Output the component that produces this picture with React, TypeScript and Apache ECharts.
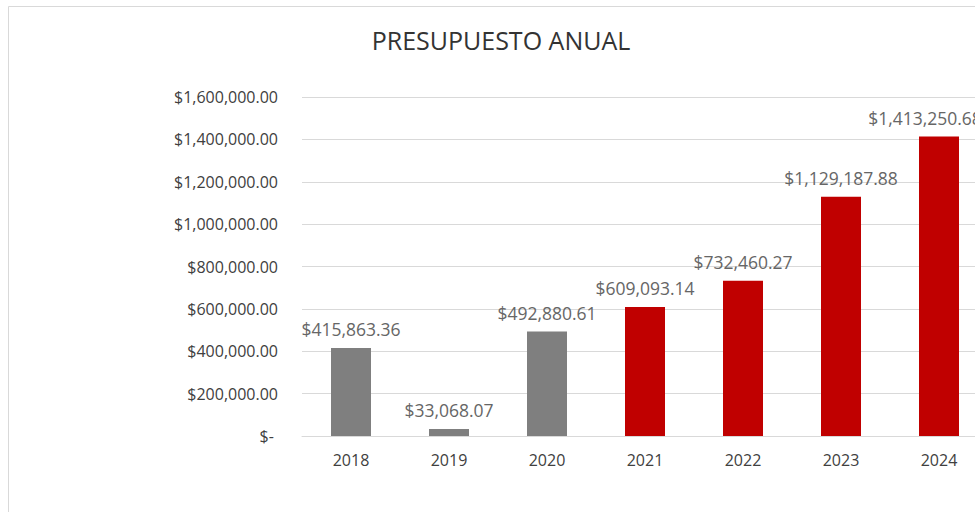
import React, { useEffect, useRef } from "react";
import * as echarts from "echarts";

const years = ["2018", "2019", "2020", "2021", "2022", "2023", "2024"];
const budget = [415863.36, 33068.07, 492880.61, 609093.14, 732460.27, 1129187.88, 1413250.68];
const firstProjectedYear = "2021";
const titleText = "PRESUPUESTO ANUAL";

const money = (v: number) =>
  "$" + v.toLocaleString("en-US", { minimumFractionDigits: 2, maximumFractionDigits: 2 });

export default function App() {
  const ref = useRef<HTMLDivElement>(null);
  useEffect(() => {
    if (!ref.current) return;
    const chart = echarts.init(ref.current, null, { renderer: "svg" });
    const font = "'Open Sans', sans-serif";
    chart.setOption({
      animation: false,
      backgroundColor: "#ffffff",
      textStyle: { fontFamily: font },
      grid: { left: 302, top: 97, right: 22, bottom: 76, containLabel: false },
      graphic: [
        {
          type: "rect",
          shape: { x: 8.5, y: 6.5, width: 1200, height: 700 },
          style: { fill: "none", stroke: "#d9d9d9", lineWidth: 1 },
          silent: true,
        },
        {
          type: "text",
          x: 501,
          y: 40,
          style: {
            text: titleText,
            fontFamily: font,
            fontSize: 25,
            fill: "#333333",
            textAlign: "center",
            textVerticalAlign: "middle",
          },
        },
      ],
      xAxis: {
        type: "category",
        data: years,
        axisLine: { lineStyle: { color: "#d9d9d9", width: 1 } },
        axisTick: { show: false },
        axisLabel: { color: "#404040", fontSize: 16, margin: 16, fontFamily: font },
      },
      yAxis: {
        type: "value",
        min: 0,
        max: 1600000,
        interval: 200000,
        axisLine: { show: false },
        axisTick: { show: false },
        splitLine: { lineStyle: { color: "#d9d9d9", width: 1 } },
        axisLabel: {
          color: "#404040",
          fontSize: 16,
          margin: 24,
          fontFamily: font,
          formatter: (v: number) => (v === 0 ? "$- " : money(v)),
        },
      },
      series: [
        {
          type: "bar",
          barWidth: 40,
          data: budget.map((v, i) => ({
            value: v,
            itemStyle: { color: years[i] >= firstProjectedYear ? "#c00000" : "#7f7f7f" },
            label: i === budget.length - 1 ? { offset: [-14, 0] } : undefined,
          })),
          label: {
            show: true,
            position: "top",
            distance: 10,
            color: "#666666",
            fontSize: 17.5,
            fontFamily: font,
            formatter: (p: any) => money(p.value),
          },
        },
      ],
    });
    return () => chart.dispose();
  }, []);
  return (
    <div
      style={{
        position: "fixed",
        left: 0,
        top: 0,
        width: 975,
        height: 512,
        overflow: "hidden",
        background: "#fff",
      }}
    >
      <div ref={ref} style={{ width: 1010, height: 512 }} />
    </div>
  );
}
